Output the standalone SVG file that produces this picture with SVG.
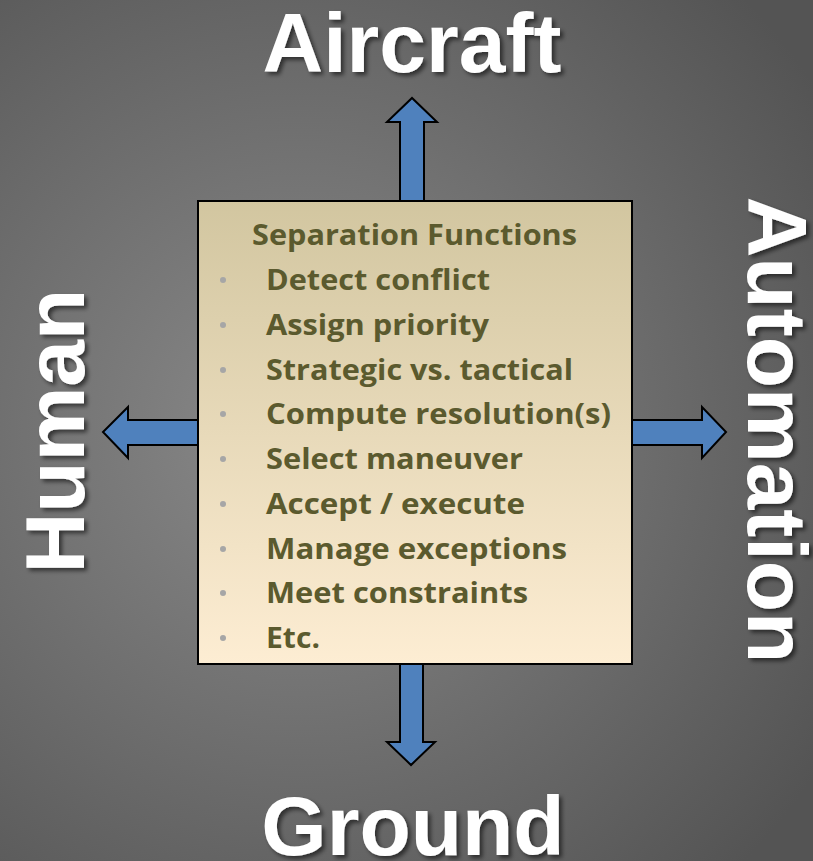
<svg xmlns="http://www.w3.org/2000/svg" width="813" height="861" viewBox="0 0 813 861">
  <defs>
    <radialGradient id="bg" cx="300" cy="430" r="620" gradientUnits="userSpaceOnUse">
      <stop offset="0" stop-color="#8a8a8a"/>
      <stop offset="1" stop-color="#545454"/>
    </radialGradient>
    <linearGradient id="boxFill" x1="0" y1="0" x2="0" y2="1">
      <stop offset="0" stop-color="#d2c6a0"/>
      <stop offset="1" stop-color="#fdedd3"/>
    </linearGradient>
    <filter id="shadow" x="-10%" y="-10%" width="130%" height="130%">
      <feDropShadow dx="3" dy="3" stdDeviation="2" flood-color="#000" flood-opacity="0.55"/>
    </filter>
  </defs>
  <style>
    .big { font-family: "Liberation Sans", Arial, sans-serif; font-weight: bold; font-size: 84px; fill: #ffffff; }
    .arrow { fill: #4f81bd; stroke: #000; stroke-width: 2; stroke-linejoin: miter; }
    .item { font-family: "Open Sans", "Noto Sans", sans-serif; font-weight: bold; font-size: 29px; fill: #5b5a2e; }
    .bullet { fill: #a6a6a6; }
  </style>

  <rect width="813" height="861" fill="url(#bg)"/>

  <!-- direction arrows -->
  <g id="connectors">
    <polygon class="arrow" points="400,201 400,122 387,122 412,98 437,122 424,122 424,201"/>
    <polygon class="arrow" points="400,664 400,742 387,742 411,765 435,742 423,742 423,664"/>
    <polygon class="arrow" points="198,420 128,420 128,407 103,432 128,458 128,445 198,445"/>
    <polygon class="arrow" points="632,420 702,420 702,407 726,432 702,458 702,445 632,445"/>
  </g>

  <!-- central box of separation functions -->
  <g id="functions">
    <rect x="198" y="201" width="434" height="463" fill="url(#boxFill)" stroke="#000" stroke-width="2"/>
    <text class="item" x="252" y="245" textLength="325" lengthAdjust="spacingAndGlyphs">Separation Functions</text>
    <g class="bullet">
      <circle cx="223" cy="280" r="3"/>
      <circle cx="223" cy="325" r="3"/>
      <circle cx="223" cy="370" r="3"/>
      <circle cx="223" cy="414" r="3"/>
      <circle cx="223" cy="459" r="3"/>
      <circle cx="223" cy="504" r="3"/>
      <circle cx="223" cy="549" r="3"/>
      <circle cx="223" cy="593" r="3"/>
      <circle cx="223" cy="638" r="3"/>
    </g>
    <text class="item" x="266" y="290" textLength="224" lengthAdjust="spacingAndGlyphs">Detect conflict</text>
    <text class="item" x="266" y="335" textLength="223" lengthAdjust="spacingAndGlyphs">Assign priority</text>
    <text class="item" x="266" y="380" textLength="307" lengthAdjust="spacingAndGlyphs">Strategic vs. tactical</text>
    <text class="item" x="266" y="424" textLength="345" lengthAdjust="spacingAndGlyphs">Compute resolution(s)</text>
    <text class="item" x="266" y="469" textLength="257" lengthAdjust="spacingAndGlyphs">Select maneuver</text>
    <text class="item" x="266" y="514" textLength="259" lengthAdjust="spacingAndGlyphs">Accept / execute</text>
    <text class="item" x="266" y="559" textLength="301" lengthAdjust="spacingAndGlyphs">Manage exceptions</text>
    <text class="item" x="266" y="603" textLength="262" lengthAdjust="spacingAndGlyphs">Meet constraints</text>
    <text class="item" x="266" y="648" textLength="54" lengthAdjust="spacingAndGlyphs">Etc.</text>
  </g>

  <!-- outer labels -->
  <g id="aircraft" filter="url(#shadow)">
    <text class="big" x="412" y="72" text-anchor="middle">Aircraft</text>
  </g>
  <g id="ground" filter="url(#shadow)">
    <text class="big" x="413" y="855" text-anchor="middle">Ground</text>
  </g>
  <g id="human" filter="url(#shadow)">
    <text class="big" transform="translate(84,431) rotate(-90)" x="0" y="0" text-anchor="middle">Human</text>
  </g>
  <g id="automation" filter="url(#shadow)">
    <text class="big" transform="translate(748,430) rotate(90)" x="0" y="0" text-anchor="middle">Automation</text>
  </g>
</svg>
